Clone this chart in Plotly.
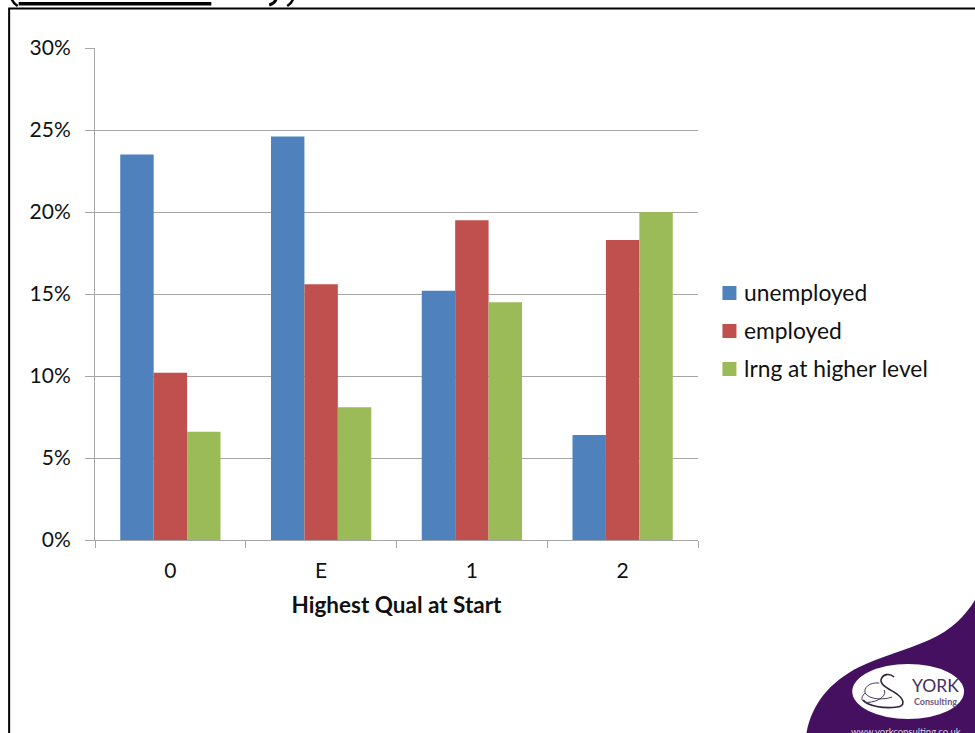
import plotly.graph_objects as go

categories = ["0", "E", "1", "2"]
unemployed = [23.5, 24.6, 15.2, 6.4]
employed = [10.2, 15.6, 19.5, 18.3]
higher_level = [6.6, 8.1, 14.5, 20.0]
y_ticks = [0, 5, 10, 15, 20, 25, 30]
y_labels = ["0%", "5%", "10%", "15%", "20%", "25%", "30%"]

SERIES = [
    ("unemployed", unemployed, "#4F81BD"),
    ("employed", employed, "#C0504D"),
    ("lrng at higher level", higher_level, "#9BBB59"),
]
FONT = "Lato, Carlito, sans-serif"
INK = "#111111"
PURPLE = "#45105F"
W, H = 975, 733
L, R, T, B = 94.5, 698.5, 48, 540
AXIS = "#A6A6A6"


def px(x):
    return (x - L) / (R - L)


def py(y):
    return (B - y) / (B - T)


def path(*segments):
    """Build an SVG path in page pixels: each segment is a command and its x, y pairs."""
    parts = []
    for cmd, *pts in segments:
        coords = " ".join(f"{px(pts[i])} {py(pts[i + 1])}" for i in range(0, len(pts), 2))
        parts.append(f"{cmd} {coords}".strip())
    return " ".join(parts)


def page_shape(**kw):
    return dict(xref="paper", yref="paper", **kw)


def page_text(text, x, y, size, colour, anchor="left", bold=False):
    return dict(text=f"<b>{text}</b>" if bold else text, xref="paper", yref="paper", x=px(x), y=py(y),
                xanchor=anchor, yanchor="middle", showarrow=False, xshift=0,
                font=dict(family=FONT, size=size, color=colour))


fig = go.Figure()
for name, values, colour in SERIES:
    fig.add_bar(x=categories, y=values, name=name, marker_color=colour, marker_line_width=0,
                showlegend=False)

shapes = [
    # Slide frame
    page_shape(type="path", layer="above", line=dict(color="black", width=2),
               path=path(("M", 8.5, 734), ("L", 8.5, 8.5), ("L", 976, 8.5))),
    # Clipped slide heading: underline and the tails of its characters
    page_shape(type="rect", x0=px(18), x1=px(211), y0=py(5.5), y1=py(2), fillcolor="black", line_width=0),
    page_shape(type="path", line=dict(color="black", width=2.5),
               path=path(("M", 11, -1), ("C", 12, 2, 14, 4, 17, 6))),
    page_shape(type="path", line=dict(color="black", width=3),
               path=path(("M", 276, -1), ("C", 275, 2, 273, 4, 269, 5))),
    page_shape(type="path", line=dict(color="black", width=2.5),
               path=path(("M", 293, -1), ("C", 292, 2, 290, 4, 287, 6))),
    # Purple corner of the logo
    page_shape(type="path", fillcolor=PURPLE, line_width=0,
               path=path(("M", 976, 600), ("C", 966, 616, 953, 630, 930, 640),
                         ("C", 908, 650, 880, 657, 860, 667),
                         ("C", 830, 682, 812, 705, 807, 734), ("L", 976, 734), ("Z",))),
    page_shape(type="circle", fillcolor="white", line_width=0, x0=px(853), x1=px(965), y0=py(719), y1=py(664)),
    # Swan emblem
    page_shape(type="path", line=dict(color="#2F2438", width=1.6),
               path=path(("M", 895, 677), ("C", 890, 673, 884, 674, 882, 679),
                         ("C", 880, 686, 893, 690, 899, 695),
                         ("C", 905, 700, 906, 706, 898, 707),
                         ("C", 885, 709, 868, 706, 864, 700))),
    page_shape(type="path", line=dict(color="#4A3A55", width=1),
               path=path(("M", 880, 683), ("C", 870, 682, 864, 688, 866, 693),
                         ("C", 870, 700, 885, 700, 893, 697))),
    page_shape(type="path", line=dict(color="#4A3A55", width=1),
               path=path(("M", 866, 693), ("C", 860, 698, 862, 704, 872, 702),
                         ("C", 880, 701, 888, 695, 885, 690))),
]

annotations = [
    page_text("YORK", 911, 685.5, 17.5, "#45305F"),
    page_text("Consulting", 913, 701, 9, "#6B5A80", bold=True),
    page_text("www.yorkconsulting.co.uk", 850, 731, 9.5, "#D8CCE0"),
]

# Legend column: swatch plus label per series
for i, (name, _, colour) in enumerate(SERIES):
    centre = 293 + 38 * i
    shapes.append(page_shape(type="rect", x0=px(723), x1=px(737), y0=py(centre + 7), y1=py(centre - 7),
                             fillcolor=colour, line_width=0))
    annotations.append(page_text(name, 743, centre - 1, 22.8, INK))

fig.update_layout(
    width=W, height=H,
    autosize=False,
    margin=dict(l=L, r=W - R, t=T, b=H - B, pad=0),
    paper_bgcolor="white", plot_bgcolor="white",
    font=dict(family=FONT, size=21, color=INK),
    barmode="group", bargap=0.335, bargroupgap=0,
    shapes=shapes, annotations=annotations,
    showlegend=False,
    xaxis=dict(
        type="category", tickson="boundaries", ticks="outside", ticklen=7, tickcolor=AXIS, tickwidth=1,
        showline=True, linecolor=AXIS, linewidth=1, showgrid=False, ticklabelstandoff=12,
        title=dict(text="<b>Highest Qual at Start</b>", font=dict(family=FONT, size=22.5), standoff=16),
        tickfont=dict(family=FONT, size=21),
    ),
    yaxis=dict(
        range=[0, 30], tickmode="array", tickvals=y_ticks, ticktext=y_labels,
        ticks="outside", ticklen=9, tickcolor=AXIS, tickwidth=1, ticklabelstandoff=10,
        showline=True, linecolor=AXIS, linewidth=1, showgrid=True, gridcolor=AXIS, gridwidth=1,
        zeroline=False, tickfont=dict(family=FONT, size=21),
    ),
)

fig.write_html("out.html", config=dict(displayModeBar=False))
